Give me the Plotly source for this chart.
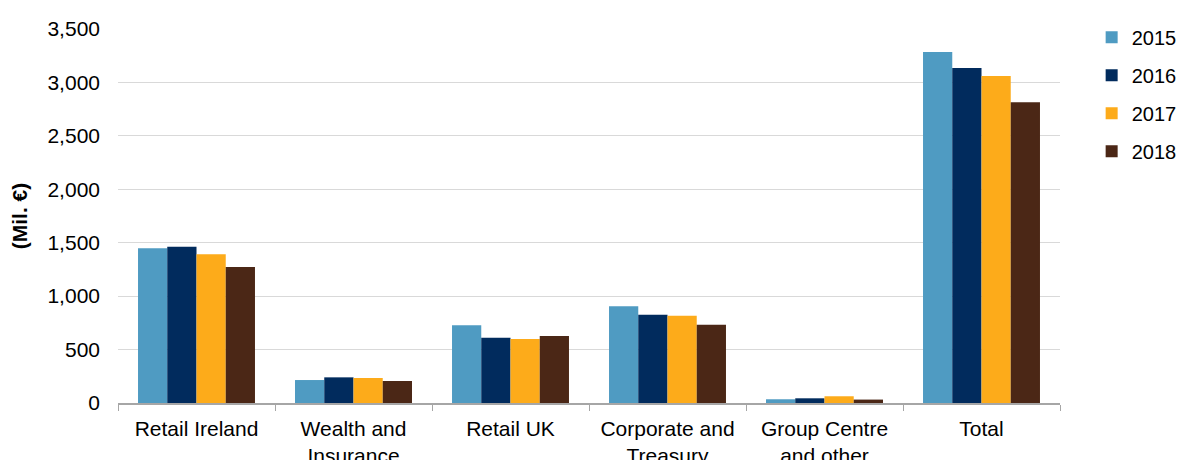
import plotly.graph_objects as go

categories = ["Retail Ireland", "Wealth and<br>Insurance", "Retail UK",
              "Corporate and<br>Treasury", "Group Centre<br>and other", "Total"]
years = ["2015", "2016", "2017", "2018"]
values_2015 = [1448, 215, 727, 905, 35, 3285]
values_2016 = [1463, 240, 611, 827, 44, 3135]
values_2017 = [1392, 234, 599, 817, 63, 3060]
values_2018 = [1273, 206, 627, 733, 32, 2814]
colors = ["#4F9BC2", "#012B5D", "#FDAB1A", "#4B2716"]

series = [values_2015, values_2016, values_2017, values_2018]

fig = go.Figure()
for yr, vals, col in zip(years, series, colors):
    fig.add_trace(go.Bar(
        x=categories, y=vals, name=yr,
        marker=dict(color=col, line=dict(width=0)),
        legendgroup=yr,
    ))

font_family = "Liberation Sans, Arial, sans-serif"
fig.update_layout(
    width=1182, height=452,
    margin=dict(l=110, r=130, t=21, b=57, autoexpand=False),
    barmode="group", bargap=0.255, bargroupgap=0,
    plot_bgcolor="white", paper_bgcolor="white",
    font=dict(family=font_family, size=21, color="#000000"),
    legend=dict(x=1.0336, xanchor="left", y=1.03, yanchor="top",
                traceorder="grouped", tracegroupgap=9,
                font=dict(size=20), itemwidth=30,
                bgcolor="rgba(0,0,0,0)"),
    showlegend=True,
)
fig.update_xaxes(
    showline=True, linecolor="#A6A6A6", linewidth=1.5,
    ticks="outside", tickson="boundaries", ticklen=6, tickcolor="#A6A6A6",
    showgrid=False, tickfont=dict(size=21), automargin=False,
    ticklabelstandoff=6,
)
fig.update_yaxes(
    range=[0, 3500], dtick=500, tickformat=",",
    showgrid=True, gridcolor="#D9D9D9", gridwidth=1.2,
    zeroline=False, showline=False, ticks="", ticklabelstandoff=17,
    title=dict(text="<b>(Mil. €)</b>", font=dict(size=21), standoff=16),
    tickfont=dict(size=21), automargin=False,
)
fig.write_html("out.html")
